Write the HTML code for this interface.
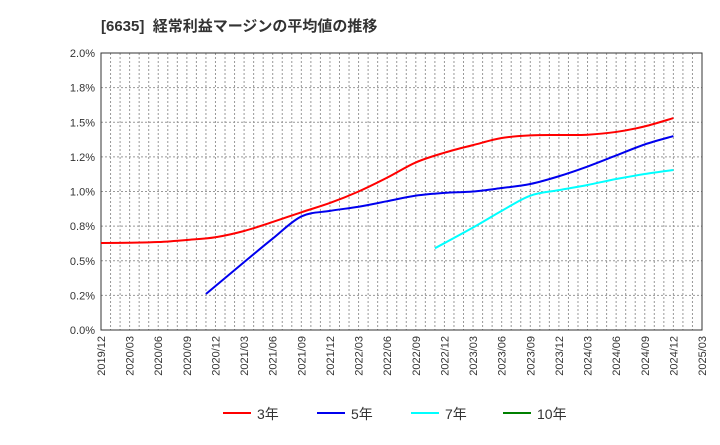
<!DOCTYPE html>
<html><head><meta charset="utf-8"><style>
body{margin:0;background:#fff;}
svg text{font-family:"Liberation Sans","Noto Sans CJK JP",sans-serif;}
</style></head><body>
<svg id="chart" width="720" height="440" xmlns="http://www.w3.org/2000/svg">
<text x="101" y="31" font-size="15" font-weight="bold" fill="#333">[6635]&#160;&#160;経常利益マージンの平均値の推移</text>
<g id="grid"></g>
<g id="axes"></g>
<g id="series"></g>
<g id="legend"></g>
</svg>
<script>
const xLabels=["2019/12","2020/03","2020/06","2020/09","2020/12","2021/03","2021/06","2021/09","2021/12","2022/03","2022/06","2022/09","2022/12","2023/03","2023/06","2023/09","2023/12","2024/03","2024/06","2024/09","2024/12","2025/03"];
const yTicks=[0,0.25,0.5,0.75,1.0,1.25,1.5,1.75,2.0];
const yTickLabels=["0.0%","0.2%","0.5%","0.8%","1.0%","1.2%","1.5%","1.8%","2.0%"];
// month offsets from 2019/12
const m3=[0,3,6,9,12,15,18,21,24,27,30,33,36,39,42,45,48,51,54,57,60];
const v3=[0.628,0.63,0.635,0.65,0.67,0.715,0.78,0.85,0.917,1.0,1.10,1.21,1.28,1.335,1.386,1.405,1.408,1.41,1.43,1.47,1.53];
const m5=[11,15,18,21,24,27,30,33,36,39,42,45,48,51,54,57,60];
const v5=[0.26,0.49,0.66,0.82,0.86,0.89,0.93,0.97,0.99,1.0,1.025,1.054,1.11,1.18,1.26,1.34,1.40];
const m7=[35,39,42,45,48,51,54,57,60];
const v7=[0.59,0.74,0.86,0.97,1.01,1.047,1.09,1.126,1.155];
const m10=[];
const v10=[];
const L=101,R=702,T=53,B=330,MONTHS=63;
const xs=m=>L+(R-L)*m/MONTHS;
const ys=v=>B-(B-T)*v/2.0;
const NS="http://www.w3.org/2000/svg";
function mk(tag,attrs,parent){const e=document.createElementNS(NS,tag);for(const k in attrs)e.setAttribute(k,attrs[k]);parent.appendChild(e);return e;}
const grid=document.getElementById('grid'),axes=document.getElementById('axes'),series=document.getElementById('series'),legend=document.getElementById('legend');
for(let m=1;m<MONTHS;m++){const l=mk('line',{x1:xs(m),x2:xs(m),y1:T,y2:B,stroke:'#999','stroke-dasharray':'2,2','stroke-width':1},grid);

}
yTicks.forEach((v,i)=>{if(i>0&&i<yTicks.length-1){const l=mk('line',{x1:L,x2:R,y1:ys(v),y2:ys(v),stroke:'#999','stroke-dasharray':'2,2','stroke-width':1},grid);

}
const t=mk('text',{x:L-6,y:ys(v)+4,'text-anchor':'end','font-size':11,fill:'#333'},axes);t.textContent=yTickLabels[i];

});
xLabels.forEach((s,i)=>{const x=xs(i*3);const t=mk('text',{x:x+4,y:B+6,'text-anchor':'end','font-size':11,fill:'#333',transform:`rotate(-90 ${x+4} ${B+6})`},axes);t.textContent=s;

});
const frame=mk('rect',{x:L,y:T,width:R-L,height:B-T,fill:'none',stroke:'#333','stroke-width':1},axes);


function path(ms,vs){const p=ms.map((m,i)=>[xs(m),ys(vs[i])]);if(!p.length)return '';let d=`M${p[0][0]},${p[0][1]}`;
for(let i=0;i<p.length-1;i++){const p0=p[i-1]||p[i],p1=p[i],p2=p[i+1],p3=p[i+2]||p2;
d+=` C${p1[0]+(p2[0]-p0[0])/6},${p1[1]+(p2[1]-p0[1])/6} ${p2[0]-(p3[0]-p1[0])/6},${p2[1]-(p3[1]-p1[1])/6} ${p2[0]},${p2[1]}`;}return d;}
const defs=[[m3,v3,'#ff0000','3年','line-3yr'],[m5,v5,'#0000ee','5年','line-5yr'],[m7,v7,'#00ffff','7年','line-7yr'],[m10,v10,'#008000','10年','line-10yr']];
defs.forEach(([m,v,c,n,id])=>{if(m.length){const p=mk('path',{d:path(m,v),fill:'none',stroke:c,'stroke-width':2},series);

}});
const lx=[223,317,411,503];
defs.forEach(([m,v,c,n,id],i)=>{const g=mk('g',{},legend);


mk('line',{x1:lx[i],x2:lx[i]+28,y1:413,y2:413,stroke:c,'stroke-width':2},g);
const t=mk('text',{x:lx[i]+34,y:419,'font-size':14,fill:'#333'},g);t.textContent=n;});
</script>
</body></html>
